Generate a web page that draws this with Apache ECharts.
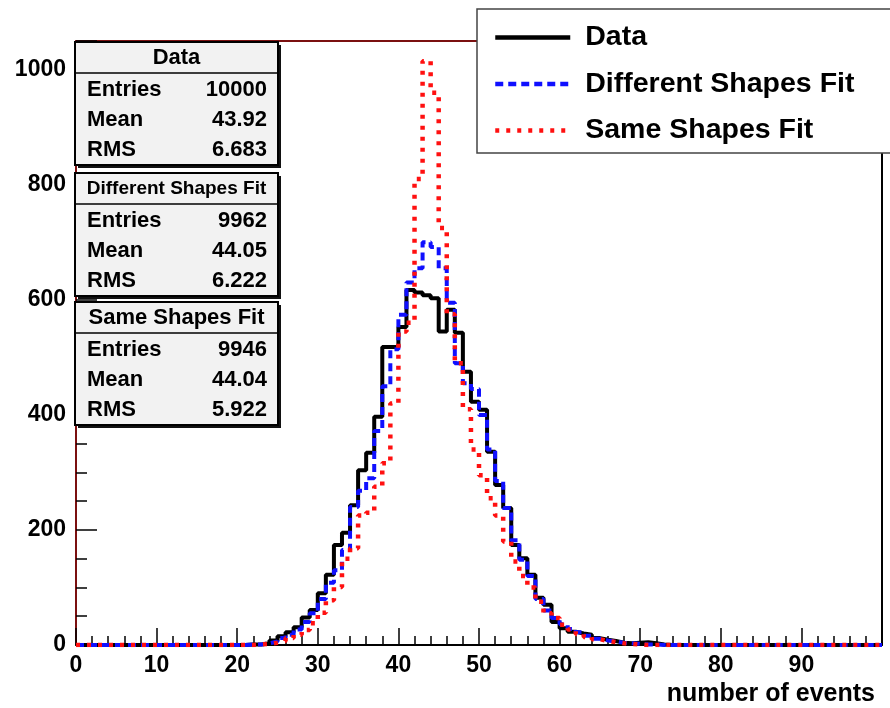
<!DOCTYPE html>
<html>
<head>
<meta charset="utf-8">
<script src="https://cdn.jsdelivr.net/npm/echarts@6/dist/echarts.min.js"></script>
<style>
html, body { margin: 0; padding: 0; background: #fff; }
#chart { width: 890px; height: 708px; }
</style>
</head>
<body>
<div id="chart"></div>
<script>
// bin contents, one value per unit bin from 0 to 100
var data_counts = [
    0,0,0,0,0,0,0,0,0,0,
    0,0,0,0,0,0,0,0,0,0,
    0,1,1,3,8,15,22,31,48,61,
    90,122,174,195,243,304,334,397,518,518,
    553,617,613,608,603,545,583,543,475,423,
    409,336,278,238,174,151,122,82,70,40,
    29,23,20,18,12,9,7,4,3,4,
    5,3,1,0,0,0,0,0,0,0,
    0,0,0,0,0,0,0,0,0,0,
    0,0,0,0,0,0,0,0,0,0
];
var diff_counts = [
    0,0,0,0,0,0,0,0,0,0,
    0,0,0,0,0,0,0,0,0,0,
    0,1,1,3,6,12,18,27,40,55,
    80,108,130,165,240,268,290,372,450,514,
    574,630,655,700,692,655,595,490,455,445,
    400,340,285,238,182,148,120,80,60,47,
    36,28,22,16,11,8,6,4,3,2,
    1,1,0,0,0,0,0,0,0,0,
    0,0,0,0,0,0,0,0,0,0,
    0,0,0,0,0,0,0,0,0,0
];
var same_counts = [
    0,0,0,0,0,0,0,0,0,0,
    0,0,0,0,0,0,0,0,0,0,
    0,0,1,2,4,7,12,18,26,38,
    56,78,101,150,168,225,230,275,316,420,
    545,560,810,1015,960,725,575,490,410,340,
    295,255,225,180,145,120,100,75,55,47,
    35,27,19,14,10,7,5,3,2,1,
    0,0,0,0,0,0,0,0,0,0,
    0,0,0,0,0,0,0,0,0,0,
    0,0,0,0,0,0,0,0,0,0
];

var series_names = ['Data', 'Different Shapes Fit', 'Same Shapes Fit'];
var stat_labels = ['Entries', 'Mean', 'RMS'];
var data_stats = ['10000', '43.92', '6.683'];
var diff_stats = ['9962', '44.05', '6.222'];
var same_stats = ['9946', '44.04', '5.922'];
var x_tick_labels = [0, 10, 20, 30, 40, 50, 60, 70, 80, 90];
var y_tick_labels = [0, 200, 400, 600, 800, 1000];

var FONT = '"Liberation Sans", Arial, Helvetica, sans-serif';

//************ HELPERS ************//
function hist_points(counts){
    var pts = counts.map(function (v, i) {
        return [i, v];
    });
    pts.push([counts.length, counts[counts.length - 1]]);
    return pts;
}

function hist_series(name, counts, color, width, dash, z){
    return {
        type: 'line',
        name: name,
        step: 'end',
        symbol: 'none',
        data: hist_points(counts),
        z: z,
        lineStyle: { color: color, width: width, type: dash },
        itemStyle: { color: color },
        emphasis: { disabled: true }
    };
}

function stat_text(x, y, text, align, size){
    return {
        type: 'text', x: x, y: y, z: 60,
        style: {
            text: text, fill: '#000',
            font: 'bold ' + size + 'px ' + FONT,
            textAlign: align, align: align,
            textVerticalAlign: 'middle', verticalAlign: 'middle'
        }
    };
}

// ROOT style stats box: header line, then Entries / Mean / RMS
function stat_box(top, header, header_size, values){
    var left = 75, w = 203, h = 123;
    var els = [
        { type: 'rect', z: 50, shape: { x: left + 3, y: top + 3, width: w, height: h }, style: { fill: '#111' } },
        { type: 'rect', z: 51, shape: { x: left, y: top, width: w, height: h }, style: { fill: '#f2f2f2', stroke: '#000', lineWidth: 2 } },
        { type: 'line', z: 52, shape: { x1: left, y1: top + 31, x2: left + w, y2: top + 31 }, style: { stroke: '#000', lineWidth: 1.5 } },
        stat_text(left + w / 2, top + 16, header, 'center', header_size)
    ];
    for (var i = 0; i < stat_labels.length; i++) {
        var yy = top + 47.5 + i * 30.3;
        els.push(stat_text(left + 12, yy, stat_labels[i], 'left', 22));
        els.push(stat_text(left + 192, yy, values[i], 'right', 22));
    }
    return els;
}
//********** END HELPERS **********//

var chart = echarts.init(document.getElementById('chart'));

var graphics = [
    { type: 'rect', z: 3, shape: { x: 477, y: 9, width: 440, height: 144 }, style: { fill: '#fff', stroke: '#444', lineWidth: 1.5 } }
];
graphics = graphics.concat(stat_box(42, series_names[0], 22, data_stats));
graphics = graphics.concat(stat_box(173, series_names[1], 19, diff_stats));
graphics = graphics.concat(stat_box(302, series_names[2], 22, same_stats));

var option = {
    animation: false,
    backgroundColor: '#fff',
    grid: { left: 76, right: 8, top: 41, bottom: 63, containLabel: false, outerBoundsMode: 'none' },
    legend: {
        show: true,
        orient: 'vertical',
        left: 493,
        top: 23,
        padding: 0,
        itemWidth: 75,
        itemHeight: 28,
        itemGap: 17.5,
        z: 5,
        data: series_names,
        itemStyle: { opacity: 0 },
        lineStyle: { width: 4.5 },
        textStyle: { fontFamily: FONT, fontWeight: 'bold', fontSize: 28.5, color: '#000', lineHeight: 28, padding: [0, 0, 0, 10] }
    },
    xAxis: [
        {
            type: 'value', min: 0, max: 100, interval: 10,
            position: 'bottom',
            name: 'number of events',
            nameLocation: 'end',
            nameGap: -7,
            nameMoveOverlap: false,
            nameTextStyle: { fontFamily: FONT, fontWeight: 'bold', fontSize: 25, color: '#000', align: 'right', verticalAlign: 'top', padding: [37, 0, 0, 0] },
            axisLine: { show: true, onZero: false, lineStyle: { color: '#000', width: 2 } },
            axisTick: { show: true, inside: true, length: 17, lineStyle: { color: '#000', width: 1.5 } },
            minorTick: { show: true, splitNumber: 5, length: 9, lineStyle: { color: '#000', width: 1.5 } },
            splitLine: { show: false },
            axisLabel: {
                margin: 9,
                fontFamily: FONT, fontWeight: 'bold', fontSize: 23, color: '#000',
                formatter: function (v) { return x_tick_labels.indexOf(v) >= 0 ? String(v) : ''; }
            }
        },
        {
            type: 'value', min: 0, max: 100,
            position: 'top',
            axisLine: { show: true, onZero: false, lineStyle: { color: '#7b1010', width: 2 } },
            axisTick: { show: false }, axisLabel: { show: false }, splitLine: { show: false }
        }
    ],
    yAxis: [
        {
            type: 'value', min: 0, max: 1050, interval: 200,
            position: 'left',
            axisLine: { show: true, onZero: false, lineStyle: { color: '#7b1010', width: 2 } },
            axisTick: { show: true, inside: true, length: 21, lineStyle: { color: '#000', width: 1.5 } },
            minorTick: { show: true, splitNumber: 4, length: 11, lineStyle: { color: '#000', width: 1.5 } },
            splitLine: { show: false },
            axisLabel: {
                margin: 10,
                showMaxLabel: false,
                fontFamily: FONT, fontWeight: 'bold', fontSize: 23, color: '#000',
                formatter: function (v) { return y_tick_labels.indexOf(v) >= 0 ? String(v) : ''; }
            }
        },
        {
            type: 'value', min: 0, max: 1050,
            position: 'right',
            axisLine: { show: true, onZero: false, lineStyle: { color: '#000', width: 2 } },
            axisTick: { show: false }, axisLabel: { show: false }, splitLine: { show: false }
        }
    ],
    series: [
        hist_series(series_names[0], data_counts, '#000000', 4, 'solid', 2),
        hist_series(series_names[1], diff_counts, '#1010ff', 4, [8, 5], 3),
        hist_series(series_names[2], same_counts, '#ff1010', 4.5, [4, 7], 4)
    ],
    graphic: { elements: graphics }
};

chart.setOption(option);
</script>
</body>
</html>
